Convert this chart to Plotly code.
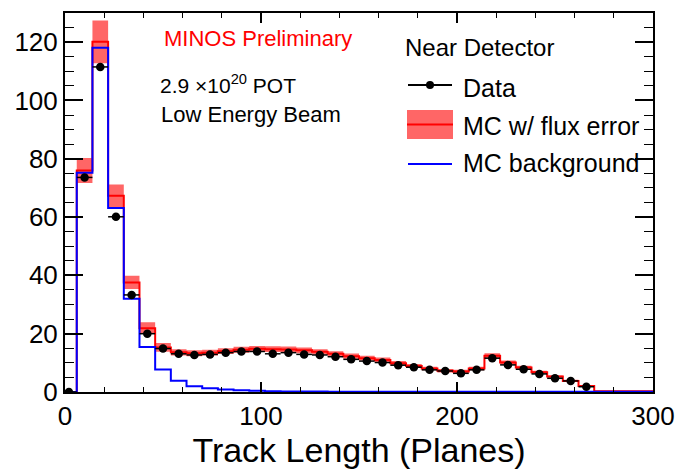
import plotly.graph_objects as go

# ---------------- data ----------------
bin_centers = [2, 10, 18, 26, 34, 42, 50, 58, 66, 74, 82, 90, 98, 106, 114, 122, 130,
               138, 146, 154, 162, 170, 178, 186, 194, 202, 210, 218, 226, 234, 242,
               250, 258, 266, 274, 282, 290, 298]
bin_width = 8

data_vals = [0, 73.6, 111.5, 60.1, 33.3, 20.0, 14.9, 13.1, 12.7, 12.9, 13.5, 13.9, 13.9,
             13.1, 13.5, 12.9, 12.7, 12.1, 11.2, 10.6, 10.1, 9.2, 8.5, 7.6, 7.2, 6.4,
             7.6, 11.6, 9.3, 7.8, 6.2, 4.7, 3.8, 1.8, None, None, None, None]

mc_vals = [0, 76.0, 120.1, 67.3, 37.6, 21.9, 15.3, 13.6, 13.3, 13.5, 14.0, 14.5, 14.8,
           14.7, 14.6, 14.3, 13.8, 13.1, 12.3, 11.6, 11.0, 9.9, 8.9, 8.1, 7.3, 7.0,
           8.1, 12.4, 10.1, 8.4, 6.8, 5.3, 3.8, 2.1, 0.3, 0.3, 0.3, 0.3]

mc_err = [0, 4.3, 7.3, 3.9, 2.3, 2.0, 1.5, 1.1, 1.0, 1.0, 1.0, 1.0, 1.0, 1.0, 1.0,
          1.0, 0.9, 0.9, 0.9, 0.8, 0.8, 0.7, 0.7, 0.6, 0.6, 0.6, 0.6, 0.9, 0.7, 0.6,
          0.5, 0.4, 0.4, 0.3, 0.1, 0.1, 0.1, 0.1]

bkg_vals = [0, 75.2, 118.1, 63.1, 32.0, 15.4, 7.7, 3.9, 2.0, 1.3, 0.9, 0.6, 0.4, 0.3,
            0.2, 0.2, 0.15, 0.1, 0.1, 0.1, 0.1, 0.1, 0.1, 0.1, 0.1, 0.1, 0.1, 0.1,
            0.1, 0.1, 0.1, 0.1, 0.1, 0.1, 0.1, 0.1, 0.1, 0.1]

x_ticks = [0, 100, 200, 300]
y_ticks = [0, 20, 40, 60, 80, 100, 120]

x_title = "Track Length (Planes)"
legend_header = "Near Detector"
legend_labels = ["Data", "MC w/ flux error", "MC background"]

# ---------------- helpers ----------------
edges = [c - bin_width / 2 for c in bin_centers] + [bin_centers[-1] + bin_width / 2]


def step(vals):
    return list(vals) + [vals[-1]]


mc_up = [v + e for v, e in zip(mc_vals, mc_err)]
mc_lo = [v - e for v, e in zip(mc_vals, mc_err)]

W, H = 676, 473
L, R, T, B = 65, 653, 13, 392


def px(x):
    return (x - L) / (R - L)


def py(y):
    return (B - y) / (B - T)


BAND = "rgba(255,0,0,0.6)"
FONT = "Liberation Sans, Arial, Helvetica, sans-serif"

fig = go.Figure()

# flux-error band
fig.add_trace(go.Scatter(x=edges, y=step(mc_lo), mode="lines", line=dict(width=0, shape="hv"),
                         hoverinfo="skip", showlegend=False))
fig.add_trace(go.Scatter(x=edges, y=step(mc_up), mode="lines", line=dict(width=0, shape="hv"),
                         fill="tonexty", fillcolor=BAND, hoverinfo="skip", showlegend=False))
# MC line
fig.add_trace(go.Scatter(x=edges, y=step(mc_vals), mode="lines",
                         line=dict(color="red", width=2, shape="hv"), showlegend=False))
# MC background
fig.add_trace(go.Scatter(x=edges, y=step(bkg_vals), mode="lines",
                         line=dict(color="blue", width=2, shape="hv"), showlegend=False))
# Data
fig.add_trace(go.Scatter(x=bin_centers, y=data_vals, mode="markers",
                         marker=dict(color="black", size=8.5),
                         error_x=dict(type="constant", value=bin_width / 2, width=0,
                                      thickness=1.5, color="black"),
                         showlegend=False))

fig.update_xaxes(range=[0, 300], tickvals=x_ticks, ticks="inside", ticklen=10, tickwidth=1.5,
                 tickcolor="black", showline=True, linecolor="black", linewidth=2,
                 mirror="allticks", showgrid=False, zeroline=False, automargin=False,
                 minor=dict(dtick=20, ticks="inside", ticklen=5, tickwidth=1.2,
                            tickcolor="black", showgrid=False),
                 tickfont=dict(family=FONT, size=26, color="black"),
                 title=dict(text=x_title, font=dict(family=FONT, size=34, color="black"),
                            standoff=6))
fig.update_yaxes(range=[0, 130], tickvals=y_ticks, ticks="inside", ticklen=18, tickwidth=1.5,
                 tickcolor="black", showline=True, linecolor="black", linewidth=2,
                 mirror="allticks", showgrid=False, zeroline=False, automargin=False,
                 minor=dict(dtick=5, ticks="inside", ticklen=9, tickwidth=1.2,
                            tickcolor="black", showgrid=False),
                 tickfont=dict(family=FONT, size=26, color="black"))

shapes = []
ann = []
# Data legend symbol
shapes.append(dict(type="line", xref="paper", yref="paper", x0=px(408), x1=px(452),
                   y0=py(85), y1=py(85), line=dict(color="black", width=2)))
shapes.append(dict(type="circle", xref="paper", yref="paper", x0=px(426), x1=px(434),
                   y0=py(89), y1=py(81), fillcolor="black", line=dict(color="black", width=0)))
# MC band legend symbol
shapes.append(dict(type="rect", xref="paper", yref="paper", x0=px(407), x1=px(453),
                   y0=py(139), y1=py(110), fillcolor=BAND, line=dict(width=0)))
shapes.append(dict(type="line", xref="paper", yref="paper", x0=px(407), x1=px(453),
                   y0=py(124.5), y1=py(124.5), line=dict(color="red", width=2)))
# MC background legend symbol
shapes.append(dict(type="line", xref="paper", yref="paper", x0=px(408), x1=px(452),
                   y0=py(164), y1=py(164), line=dict(color="blue", width=2)))


def text(s, x, y, size, color="black"):
    ann.append(dict(text=s, xref="paper", yref="paper", x=px(x), y=py(y), xanchor="left",
                    yanchor="middle", showarrow=False,
                    font=dict(family=FONT, size=size, color=color)))


text(legend_header, 403, 48, 24)
text(legend_labels[0], 461, 88, 25)
text(legend_labels[1], 461, 126, 25)
text(legend_labels[2], 461, 163, 25)
text("MINOS Preliminary", 162, 39, 22, "red")
text("2.9 \u00d710<sup>20</sup> POT", 158, 84, 21)
text("Low Energy Beam", 159, 114, 22)

fig.update_layout(width=W, height=H, margin=dict(l=L, r=W - R, t=T, b=H - B),
                  plot_bgcolor="white", paper_bgcolor="white",
                  shapes=shapes, annotations=ann, showlegend=False)

fig.write_html("out.html")
